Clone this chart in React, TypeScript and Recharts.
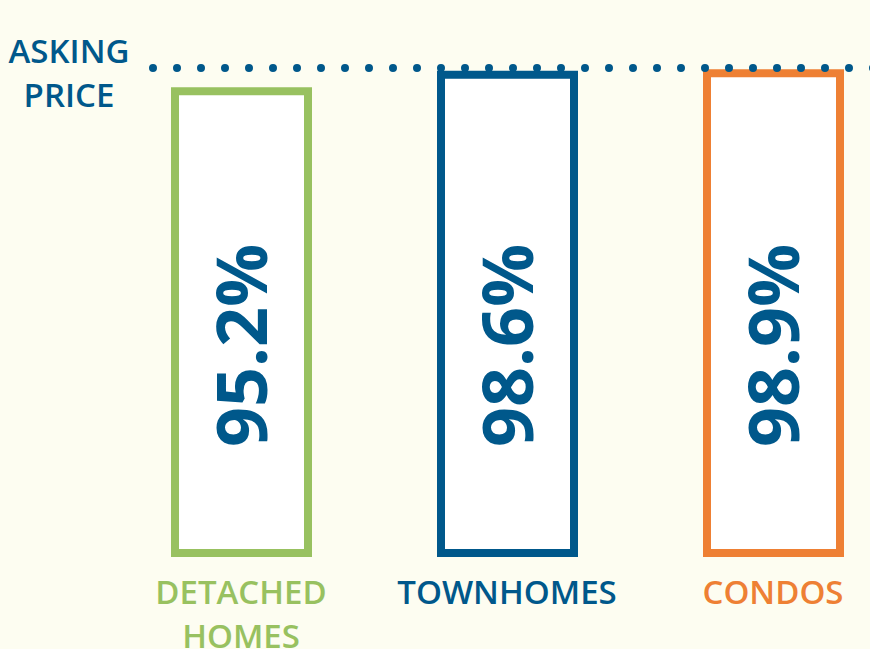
import React from "react";
import { BarChart, Bar, XAxis, YAxis, Cell, LabelList, ReferenceLine } from "recharts";

// share of asking price received, by home type
const categories = ["DETACHED HOMES", "TOWNHOMES", "CONDOS"];
const percentOfAsking = [95.2, 98.6, 98.9];
const barColors = ["#98c160", "#00588b", "#ee8034"];
const askingPrice = 100;

const BLUE = "#00588b";
const FONT = "'Open Sans', sans-serif";

const data = categories.map((name, i) => ({ name, value: percentOfAsking[i] }));

function CategoryTick(props: any) {
  const { x, y, payload, index } = props;
  const lines = String(payload.value).split(" ");
  return (
    <text
      x={x}
      y={y}
      textAnchor="middle"
      fill={barColors[index]}
      fontFamily={FONT}
      fontWeight={600}
      fontSize={33}
    >
      {lines.map((line, i) => (
        <tspan key={line} x={x} dy={i === 0 ? 43 : 44}>
          {line}
        </tspan>
      ))}
    </text>
  );
}

function ValueLabel(props: any) {
  const { x, y, width, height, value } = props;
  const cx = x + width / 2 + 25;
  const by = y + height - 106;
  return (
    <text
      transform={`translate(${cx},${by}) rotate(-90)`}
      textAnchor="start"
      fill={BLUE}
      fontFamily={FONT}
      fontWeight={700}
      fontSize={70}
    >
      {`${value}%`}
    </text>
  );
}

function AskingLabel(props: any) {
  const { viewBox } = props;
  const cx = viewBox.x - 84;
  return (
    <text textAnchor="middle" fill={BLUE} fontFamily={FONT} fontWeight={600} fontSize={33}>
      <tspan x={cx} y={viewBox.y - 5}>ASKING</tspan>
      <tspan x={cx} y={viewBox.y + 39}>PRICE</tspan>
    </text>
  );
}

export default function App() {
  return (
    <div
      style={{
        position: "fixed",
        left: 0,
        top: 0,
        width: 870,
        height: 649,
        overflow: "hidden",
        background: "#fdfdf1",
      }}
    >
      <BarChart
        width={920}
        height={649}
        data={data}
        margin={{ top: 68, right: 14, bottom: 0, left: 153 }}
      >
        <XAxis
          dataKey="name"
          axisLine={false}
          tickLine={false}
          height={96}
          interval={0}
          padding={{ left: -45, right: 0 }}
          tick={<CategoryTick />}
        />
        <YAxis hide domain={[0, askingPrice]} />
        <Bar dataKey="value" barSize={133} fill="#ffffff" strokeWidth={8} isAnimationActive={false}>
          {data.map((d, i) => (
            <Cell key={d.name} fill="#ffffff" stroke={barColors[i]} />
          ))}
          <LabelList dataKey="value" content={<ValueLabel />} />
        </Bar>
        <ReferenceLine
          y={askingPrice}
          stroke={BLUE}
          strokeWidth={8}
          strokeDasharray="0 24"
          strokeLinecap="round"
          label={<AskingLabel />}
        />
      </BarChart>
    </div>
  );
}
